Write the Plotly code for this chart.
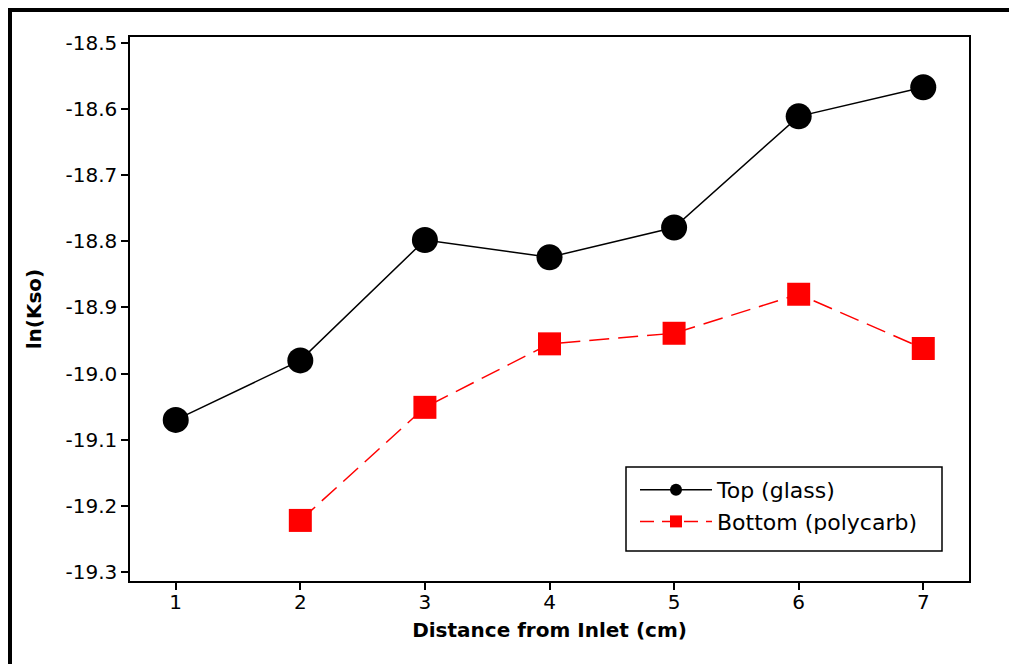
import plotly.graph_objects as go

distance = [1, 2, 3, 4, 5, 6, 7]
top_glass = [-19.070, -18.980, -18.798, -18.824, -18.779, -18.611, -18.567]
bottom_x = [2, 3, 4, 5, 6, 7]
bottom_poly = [-19.222, -19.051, -18.955, -18.939, -18.880, -18.962]
y_ticks = [-18.5, -18.6, -18.7, -18.8, -18.9, -19.0, -19.1, -19.2, -19.3]

FONT = "DejaVu Sans"
OFF = 8  # page body margin offset
W, H = 1017, 664
L, T = 130 - OFF, 37 - OFF
R = W - (969 - OFF)
B = H - (581 - OFF)
pw, ph = W - L - R, H - T - B

def px_x(x):
    return (x - OFF - L) / pw

def px_y(y):
    return (H - B - (y - OFF)) / ph

top_line = dict(color="black", width=1.5)
bot_line = dict(color="#ff0000", width=1.5, dash="20px,9px")

fig = go.Figure()
fig.add_trace(go.Scatter(
    x=distance, y=top_glass, mode="lines+markers", name="Top (glass)",
    line=top_line, marker=dict(symbol="circle", size=26, color="black"),
    showlegend=False, legendgroup="top",
))
fig.add_trace(go.Scatter(
    x=bottom_x, y=bottom_poly, mode="lines+markers", name="Bottom (polycarb)",
    line=bot_line, marker=dict(symbol="square", size=23, color="#ff0000"),
    showlegend=False, legendgroup="bot",
))
# legend entries (smaller symbols as in the original legend)
fig.add_trace(go.Scatter(
    x=[None], y=[None], mode="lines+markers", name="Top (glass)",
    line=top_line, marker=dict(symbol="circle", size=12, color="black"),
    legendgroup="top",
))
fig.add_trace(go.Scatter(
    x=[None], y=[None], mode="lines+markers", name="Bottom (polycarb)",
    line=dict(color="#ff0000", width=1.5, dash="14px,8px"),
    marker=dict(symbol="square", size=12, color="#ff0000"),
    legendgroup="bot",
))

axis_common = dict(
    showgrid=False, zeroline=False, showline=True, linecolor="black", linewidth=1.5,
    mirror=True, ticks="outside", ticklen=7, tickwidth=1.5, tickcolor="black",
    tickfont=dict(family=FONT, size=20, color="black"),
)
fig.update_xaxes(
    range=[0.633, 7.367], tickmode="array", tickvals=distance,
    ticklabelstandoff=-5,
    title=dict(text="<b>Distance from Inlet (cm)</b>", font=dict(family=FONT, size=20, color="black"), standoff=10),
    **axis_common,
)
fig.update_yaxes(
    range=[-19.3136, -18.491], tickmode="array", tickvals=y_ticks,
    ticktext=[f"{v:.1f}" for v in y_ticks],
    title=dict(text="<b>ln(Kso)</b>", font=dict(family=FONT, size=20, color="black"), standoff=19),
    **axis_common,
)

shapes = [
    # legend box
    dict(type="rect", xref="paper", yref="paper",
         x0=px_x(626), x1=px_x(942), y0=px_y(551), y1=px_y(467),
         line=dict(color="black", width=1.5), fillcolor="rgba(0,0,0,0)"),
    # outer frame (top and left)
    dict(type="line", xref="paper", yref="paper",
         x0=px_x(10), x1=px_x(1040), y0=px_y(10), y1=px_y(10),
         line=dict(color="black", width=4)),
    dict(type="line", xref="paper", yref="paper",
         x0=px_x(10), x1=px_x(10), y0=px_y(8), y1=px_y(700),
         line=dict(color="black", width=4)),
]

fig.update_layout(
    width=W, height=H,
    margin=dict(l=L, r=R, t=T, b=B),
    paper_bgcolor="white", plot_bgcolor="white",
    font=dict(family=FONT, color="black"),
    showlegend=True,
    legend=dict(
        x=px_x(635), y=px_y(469), xanchor="left", yanchor="top",
        bgcolor="rgba(0,0,0,0)", borderwidth=0,
        font=dict(family=FONT, size=22, color="black"),
        itemwidth=72, tracegroupgap=0, itemsizing="trace",
    ),
    shapes=shapes,
)

fig.write_html("out.html")
